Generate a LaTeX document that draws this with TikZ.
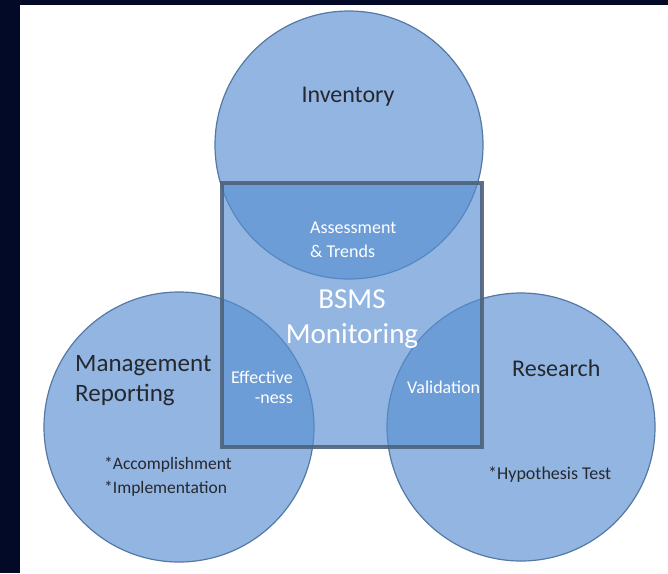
\documentclass[tikz,border=0pt]{standalone}
\usepackage{fontspec}
\setmainfont{Carlito}
\definecolor{navy}{RGB}{2,10,40}
\definecolor{vennfill}{RGB}{88,144,209}
\definecolor{circedge}{RGB}{85,120,165}
\definecolor{rectedge}{RGB}{78,98,124}
\definecolor{txtdark}{RGB}{38,40,48}
\newcommand\myfs[1]{\fontsize{#1}{#1}\selectfont}
\tikzset{
  venn/.style={fill=vennfill, fill opacity=0.65, draw=circedge, line width=1.2pt},
  monbox/.style={fill=vennfill, fill opacity=0.65, draw=rectedge, draw opacity=0.9, line width=3.5pt},
  dark/.style={text=txtdark, inner sep=0pt},
  light/.style={text=white, inner sep=0pt},
}
\begin{document}
\begin{tikzpicture}[x=1pt,y=-1pt]
\useasboundingbox (0,0) rectangle (668,573);
% background
\fill[white] (0,0) rectangle (668,573);
\fill[navy] (0,0) rectangle (668,5);
\fill[navy] (0,0) rectangle (20,573);
% circles
\draw[venn] (349,145) circle[radius=134];
\draw[venn] (179,427) circle[radius=135];
\draw[venn] (521,427) circle[radius=134];
% monitoring box
\draw[monbox] (222,183) rectangle (482,447);
% dark labels
\node[dark, font=\myfs{24}, anchor=base] (inv) at (348,102) {Inventory};
\node[dark, font=\myfs{25}, anchor=base west] (mgmt1) at (75,371) {Management};
\node[dark, font=\myfs{25}, anchor=base west] (mgmt2) at (75,401) {Reporting};
\node[dark, font=\myfs{24}, anchor=base west] (res) at (512,376) {Research};
\node[dark, font=\myfs{18}, anchor=base west] (hyp) at (488,479) {*Hypothesis Test};
\node[dark, font=\myfs{17.5}, anchor=base west] (acc) at (104,469) {*Accomplishment};
\node[dark, font=\myfs{17.5}, anchor=base west] (imp) at (104,493) {*Implementation};
% light labels
\node[light, font=\myfs{18}, anchor=base west] (ass1) at (310,233) {Assessment};
\node[light, font=\myfs{18}, anchor=base west] (ass2) at (310,257) {\& Trends};
\node[light, font=\myfs{29}, anchor=base] (bsms1) at (352,308) {BSMS};
\node[light, font=\myfs{29}, anchor=base] (bsms2) at (352,343) {Monitoring};
\node[light, font=\myfs{18}, anchor=base east] (eff1) at (293,383) {Effective};
\node[light, font=\myfs{18}, anchor=base east] (eff2) at (293,403) {-ness};
\node[light, font=\myfs{18}, anchor=base west] (val) at (407,393) {Validation};
\end{tikzpicture}
\end{document}
